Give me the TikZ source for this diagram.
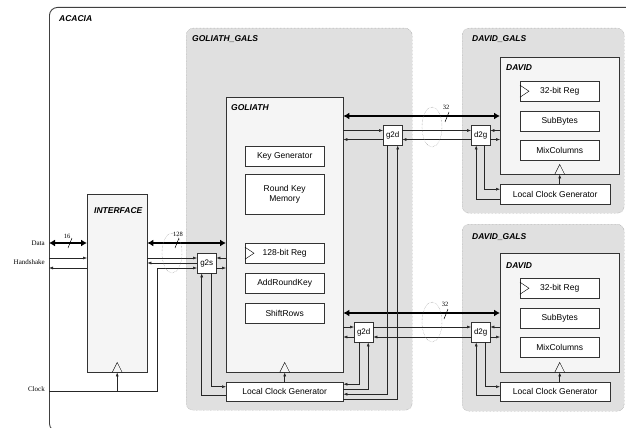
\documentclass[tikz,border=0pt]{standalone}
\usepackage{fontspec}
\setmainfont{Liberation Serif}
\setsansfont{Liberation Sans}
\usetikzlibrary{arrows.meta}
% clock input and register marks
\newcommand{\clktri}[1]{\draw ([xshift=-5pt]#1) -- ([yshift=10pt]#1) -- ([xshift=5pt]#1);}
\newcommand{\regtri}[1]{\draw ([yshift=6pt]#1) -- ([xshift=9pt]#1) -- ([yshift=-6pt]#1);}

\begin{document}
\begin{tikzpicture}[x=1pt,y=-1pt,>={Latex[length=4pt,width=3pt]},
  gals/.style={draw=black!45,densely dotted,fill=black!12,rounded corners=7pt,inner sep=0pt,anchor=north west},
  core/.style={draw=black!80,fill=black!4,inner sep=0pt,anchor=north west},
  blk/.style={draw=black!80,fill=white,inner sep=0pt,anchor=north west,align=center,
    font=\fontsize{8.5}{10}\selectfont\sffamily},
  conv/.style={blk,minimum width=19pt,minimum height=20pt,font=\fontsize{8}{9}\selectfont\sffamily},
  ttl/.style={inner sep=0pt,anchor=north west,font=\fontsize{8.5}{10}\selectfont\sffamily\bfseries\itshape},
  pin/.style={inner sep=0pt,anchor=east,font=\fontsize{7}{8}\selectfont\rmfamily},
  wid/.style={inner sep=0pt,font=\fontsize{6.5}{7}\selectfont\rmfamily},
  sig/.style={->,line width=0.5pt,draw=black!85},
  bus/.style={<->,line width=2.2pt,>={Latex[length=6pt,width=7pt]}}]
  \useasboundingbox (0,0) rectangle (626,428);
  \clip (0,0) rectangle (626,428);
  % top level
  \node[draw=black!75,line width=0.9pt,rounded corners=8pt,minimum width=600pt,
    minimum height=424pt,inner sep=0pt,anchor=north west] (acacia) at (49,7) {};
  \node[ttl] (acaciat) at (59,15) {ACACIA};
  % GALS wrappers
  \node[gals,minimum width=226pt,minimum height=382pt] (golgals) at (186,28) {};
  \node[gals,minimum width=162pt,minimum height=185pt] (davgalsA) at (462,28) {};
  \node[gals,minimum width=162pt,minimum height=187pt] (davgalsB) at (462,224) {};
  \node[ttl] (golgalst) at (192,35) {GOLIATH\_GALS};
  \node[ttl] (davgalsAt) at (472,35) {DAVID\_GALS};
  \node[ttl] (davgalsBt) at (472,233) {DAVID\_GALS};
  % cores
  \node[core,minimum width=60pt,minimum height=178pt] (iface) at (87,194) {};
  \node[ttl] (ifacet) at (94,207) {INTERFACE};
  \node[core,minimum width=117pt,minimum height=275pt] (goliath) at (226,97) {};
  \node[ttl] (goliatht) at (231,104) {GOLIATH};
  \node[core,minimum width=119pt,minimum height=117pt] (davidA) at (500,57) {};
  \node[ttl] (davidAt) at (506,64) {DAVID};
  \node[core,minimum width=119pt,minimum height=119pt] (davidB) at (500,253) {};
  \node[ttl] (davidBt) at (506,262) {DAVID};
  % GOLIATH blocks
  \node[blk,minimum width=79pt,minimum height=20pt] (keygen) at (245,146) {Key Generator};
  \node[blk,minimum width=79pt,minimum height=40pt] (rkmem) at (245,174) {Round Key\\Memory};
  \node[blk,minimum width=79pt,minimum height=20pt] (regG) at (245,243) {128-bit Reg};
  \node[blk,minimum width=79pt,minimum height=20pt] (ark) at (245,273) {AddRoundKey};
  \node[blk,minimum width=79pt,minimum height=20pt] (shrows) at (245,303) {ShiftRows};
  % DAVID blocks
  \node[blk,minimum width=79pt,minimum height=20pt] (regDA) at (520,81) {32-bit Reg};
  \node[blk,minimum width=79pt,minimum height=20pt] (subDA) at (520,111) {SubBytes};
  \node[blk,minimum width=79pt,minimum height=20pt] (mixDA) at (520,140) {MixColumns};
  \node[blk,minimum width=79pt,minimum height=20pt] (regDB) at (520,278) {32-bit Reg};
  \node[blk,minimum width=79pt,minimum height=20pt] (subDB) at (520,308) {SubBytes};
  \node[blk,minimum width=79pt,minimum height=20pt] (mixDB) at (520,337) {MixColumns};
  \regtri{regG.west}
  \regtri{regDA.west}
  \regtri{regDB.west}
  % local clocks
  \node[blk,minimum width=117pt,minimum height=19pt] (lcgG) at (226,382) {Local Clock Generator};
  \node[blk,minimum width=110pt,minimum height=20pt] (lcgDA) at (500,184) {Local Clock Generator};
  \node[blk,minimum width=110pt,minimum height=19pt] (lcgDB) at (500,382) {Local Clock Generator};
  % converters
  \node[conv] (g2s) at (197,253) {g2s};
  \node[conv] (g2dA) at (383,125) {g2d};
  \node[conv] (d2gA) at (471,125) {d2g};
  \node[conv] (g2dB) at (354,322) {g2d};
  \node[conv] (d2gB) at (471,322) {d2g};
  % lanes
  \coordinate (dat) at (0,243);
  \coordinate (hs1) at (0,258);
  \coordinate (hs2) at (0,268);
  \coordinate (r2) at (0,263);
  \coordinate (clkv) at (157,391);
  \coordinate (ba) at (0,116);
  \coordinate (a1) at (0,130.5);
  \coordinate (a2) at (0,139.5);
  \coordinate (bb) at (0,313);
  \coordinate (b1) at (0,327);
  \coordinate (b2) at (0,337);
  % pins
  \node[pin] (datal) at (45,243) {Data};
  \node[pin] (hsl) at (45,262) {Handshake};
  \node[pin] (clkl) at (45,389) {Clock};
  \draw[bus] (acacia.west |- dat) -- (iface.west |- dat);
  \draw[sig] (acacia.west |- hs1) -- (iface.west |- hs1);
  \draw[sig] (iface.west |- hs2) -- (acacia.west |- hs2);
  \draw[sig] (acacia.west |- clkv) -- (clkv) |- (g2s.west |- hs2);
  \draw[sig] (iface.south |- clkv) -- (iface.south);
  \clktri{iface.south}
  % INTERFACE <-> GOLIATH
  \draw[bus] (iface.east |- dat) -- (goliath.west |- dat);
  \draw[sig] (iface.east |- hs1) -- (g2s.west |- hs1);
  \draw[sig] (g2s.west |- r2) -- (iface.east |- r2);
  \draw[sig] (goliath.west |- hs1) -- (g2s.east |- hs1);
  \draw[sig] (g2s.east |- hs2) -- (goliath.west |- hs2);
  \draw[sig] ([xshift=5pt]g2s.south) |- ([yshift=5pt]lcgG.west);
  \draw[sig] ([yshift=-4pt]lcgG.west) -| ([xshift=-5pt]g2s.south);
  \draw[sig] (lcgG.north) -- (goliath.south);
  \clktri{goliath.south}
  % GOLIATH <-> DAVID (upper)
  \draw[bus] (goliath.east |- ba) -- (davidA.west |- ba);
  \draw[sig] (goliath.east |- a1) -- (g2dA.west |- a1);
  \draw[sig] (g2dA.west |- a2) -- (goliath.east |- a2);
  \draw[sig] (g2dA.east |- a1) -- (d2gA.west |- a1);
  \draw[sig] (d2gA.west |- a2) -- (g2dA.east |- a2);
  \draw[sig] (davidA.west |- a1) -- (d2gA.east |- a1);
  \draw[sig] (d2gA.east |- a2) -- (davidA.west |- a2);
  % GOLIATH <-> DAVID (lower)
  \draw[bus] (goliath.east |- bb) -- (davidB.west |- bb);
  \draw[sig] (goliath.east |- b1) -- (g2dB.west |- b1);
  \draw[sig] (g2dB.west |- b2) -- (goliath.east |- b2);
  \draw[sig] (g2dB.east |- b1) -- (d2gB.west |- b1);
  \draw[sig] (d2gB.west |- b2) -- (g2dB.east |- b2);
  \draw[sig] (davidB.west |- b1) -- (d2gB.east |- b1);
  \draw[sig] (d2gB.east |- b2) -- (davidB.west |- b2);
  % clocking of the g2d converters
  \draw[sig] ([xshift=-4.5pt]g2dB.south) |- ([yshift=7.5pt]lcgG.east);
  \draw[sig] ([yshift=2.5pt]lcgG.east) -| ([xshift=4.5pt]g2dB.south);
  \draw[sig] ([xshift=-5pt]g2dA.south) |- ([yshift=-2.5pt]lcgG.east);
  \draw[sig] ([yshift=-7.5pt]lcgG.east) -| ([xshift=5pt]g2dA.south);
  % clocking of DAVID side
  \draw[sig] ([xshift=4pt]d2gA.south) |- ([yshift=5pt]lcgDA.west);
  \draw[sig] ([yshift=-5pt]lcgDA.west) -| ([xshift=-4.5pt]d2gA.south);
  \draw[sig] (lcgDA.north -| davidA.south) -- (davidA.south);
  \clktri{davidA.south}
  \draw[sig] ([xshift=4.5pt]d2gB.south) |- ([yshift=5pt]lcgDB.west);
  \draw[sig] ([yshift=-4pt]lcgDB.west) -| ([xshift=-4.5pt]d2gB.south);
  \draw[sig] (lcgDB.north -| davidB.south) -- (davidB.south);
  \clktri{davidB.south}
  % bus widths
  \node[wid] (w16) at (67,236) {16};
  \draw[line width=0.5pt] (68,248) -- (72,238);
  \node[wid] (w128) at (178,234) {128};
  \draw[line width=0.5pt] (175,248) -- (179,238);
  \node[wid] (w32A) at (446,107) {32};
  \draw[line width=0.5pt] (445,122) -- (449,112);
  \node[wid] (w32B) at (445,304) {32};
  \draw[line width=0.5pt] (444,319) -- (448,309);
  % clock domain crossings
  \draw[black!50,densely dotted] (172,253) ellipse [x radius=10, y radius=20];
  \draw[black!50,densely dotted] (432,127) ellipse [x radius=10, y radius=20];
  \draw[black!50,densely dotted] (432,322) ellipse [x radius=10, y radius=20];
\end{tikzpicture}
\end{document}
